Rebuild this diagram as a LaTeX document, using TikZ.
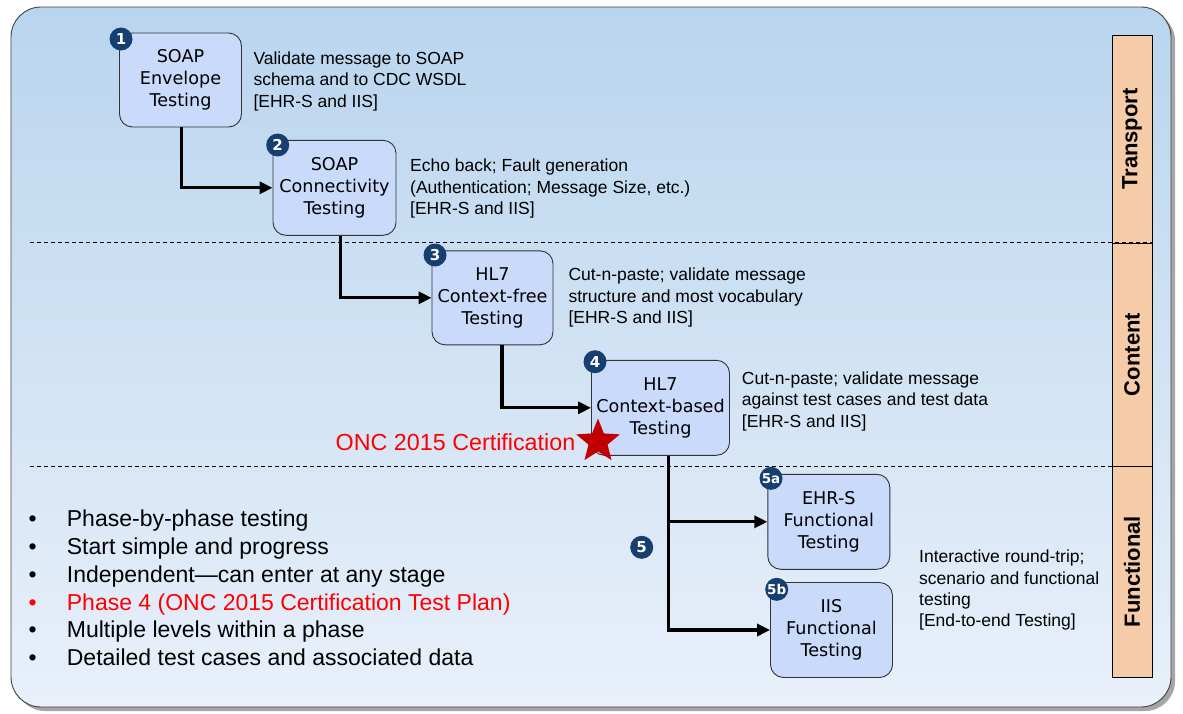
\documentclass[tikz,border=0pt]{standalone}
\usepackage{fontspec}
\setmainfont{Liberation Sans}
\newfontfamily\boxfont{DejaVu Sans}
\usetikzlibrary{arrows.meta,shapes.geometric}
\definecolor{bgtop}{RGB}{185,213,238}
\definecolor{bgbot}{RGB}{233,240,250}
\definecolor{boxblue}{RGB}{201,218,250}
\definecolor{navy}{RGB}{22,62,110}
\definecolor{peach}{RGB}{246,203,168}
\definecolor{starred}{RGB}{192,0,0}
\definecolor{txtred}{RGB}{255,0,0}
\begin{document}
\begin{tikzpicture}[x=1pt,y=-1pt,
  stagebox/.style={draw=black!80, line width=0.9pt, rounded corners=13pt, fill=boxblue,
    align=center, inner sep=0pt, font=\boxfont\fontsize{17.6}{22.2}\selectfont},
  badge/.style={circle, fill=navy, minimum size=23pt, inner sep=0pt, text=white,
    font=\boxfont\bfseries\fontsize{15}{15}\selectfont},
  desc/.style={anchor=north west, align=left, inner sep=0pt, font=\fontsize{17.5}{21.5}\selectfont},
  conn/.style={line width=3.2pt, -{Triangle[length=13pt,width=12pt]}},
  layerbar/.style={draw=black, line width=0.9pt, fill=peach, rotate=90, minimum height=40pt,
    inner sep=0pt, font=\bfseries\fontsize{22}{22}\selectfont},
  divider/.style={line width=0.9pt, dash pattern=on 4pt off 3pt},
  bullet/.style={anchor=base west, inner sep=0pt, font=\fontsize{23}{28}\selectfont}
]
\useasboundingbox (0,0) rectangle (1183,713);
% frame
\fill[black!35, rounded corners=30pt] (15,11) rectangle (1175,711);
\shadedraw[top color=bgtop, bottom color=bgbot, draw=black!75, line width=0.9pt, rounded corners=30pt]
  (11,7) rectangle (1171,707);

% layer bars
\node[layerbar, minimum width=208pt] (tr) at (1132,139) {Transport};
\node[layerbar, minimum width=223pt] (co) at (1132,354.5) {Content};
\node[layerbar, minimum width=211pt] (fu) at (1132,571.5) {Functional};

% dividers
\coordinate (d1s) at (30,242.5);
\coordinate (d2s) at (30,466.5);
\draw[divider] (d1s) -- (d1s -| tr.south);
\draw[divider] (d2s) -- (d2s -| co.south);

% stages
\node[stagebox, minimum width=122pt, minimum height=94pt] (b1) at (180.5,80) {SOAP\\Envelope\\Testing};
\node[stagebox, minimum width=123pt, minimum height=95pt] (b2) at (334.5,187.8) {SOAP\\Connectivity\\Testing};
\node[stagebox, minimum width=121pt, minimum height=94pt] (b3) at (492.5,297.8) {HL7\\Context-free\\Testing};
\node[stagebox, minimum width=138pt, minimum height=95pt] (b4) at (660.5,407.8) {HL7\\Context-based\\Testing};
\node[stagebox, minimum width=122pt, minimum height=95pt] (b5a) at (828.8,521.8) {EHR-S\\Functional\\Testing};
\node[stagebox, minimum width=122pt, minimum height=95pt] (b5b) at (831.5,630) {IIS\\Functional\\Testing};

% connectors
\draw[conn] ([xshift=1pt]b1.south) |- (b2.west);
\draw[conn] ([xshift=6pt]b2.south) |- (b3.west);
\draw[conn] ([xshift=9.5pt]b3.south) |- (b4.west);
\draw[conn] ([xshift=8pt]b4.south) |- (b5a.west);
\draw[conn] ([xshift=8pt]b4.south) |- (b5b.west);

% badges
\node[badge] (n1) at (121,39) {1};
\node[badge] (n2) at (277.7,145) {2};
\node[badge] (n3) at (435,255) {3};
\node[badge] (n4) at (595,361.7) {4};
\node[badge] (n5) at (641.7,547.3) {5};
\node[badge] (n5a) at (771,478.3) {\fontsize{13.5}{13.5}\selectfont 5a};
\node[badge] (n5b) at (776.7,589.3) {\fontsize{13.5}{13.5}\selectfont 5b};

% descriptions
\node[desc] (t1) at (253.3,48.95) {\strut Validate message to SOAP\\schema and to CDC WSDL\\{}[EHR-S and IIS]};
\node[desc] (t2) at (410,156.65) {\strut Echo back; Fault generation\\(Authentication; Message Size, etc.)\\{}[EHR-S and IIS]};
\node[desc] (t3) at (568.3,265.65) {\strut Cut-n-paste; validate message\\structure and most vocabulary\\{}[EHR-S and IIS]};
\node[desc] (t4) at (741.7,368.95) {\strut Cut-n-paste; validate message\\against test cases and test data\\{}[EHR-S and IIS]};
\node[desc, font=\fontsize{17.5}{21.3}\selectfont] (t5) at (919,547.65) {\strut Interactive round-trip;\\scenario and functional\\testing\\{}[End-to-end Testing]};

% certification marker
\node[star, star points=5, star point ratio=2.3, minimum size=46pt, inner sep=0pt, fill=starred] (st) at (598,441.5) {};
\node[anchor=base east, inner sep=0pt, text=txtred, font=\fontsize{23.3}{23.3}\selectfont] (onc) at (575.5,450) {ONC 2015 Certification};

% bullet list
\node[bullet] (l1) at (28.3,526.7) {\makebox[38.4pt][l]{•}Phase-by-phase testing};
\node[bullet] (l2) at (28.3,554.5) {\makebox[38.4pt][l]{•}Start simple and progress};
\node[bullet] (l3) at (28.3,582.3) {\makebox[38.4pt][l]{•}Independent—can enter at any stage};
\node[bullet, text=txtred] (l4) at (28.3,610.1) {\makebox[38.4pt][l]{•}Phase 4 (ONC 2015 Certification Test Plan)};
\node[bullet] (l5) at (28.3,637.9) {\makebox[38.4pt][l]{•}Multiple levels within a phase};
\node[bullet] (l6) at (28.3,665.7) {\makebox[38.4pt][l]{•}Detailed test cases and associated data};
\end{tikzpicture}
\end{document}
